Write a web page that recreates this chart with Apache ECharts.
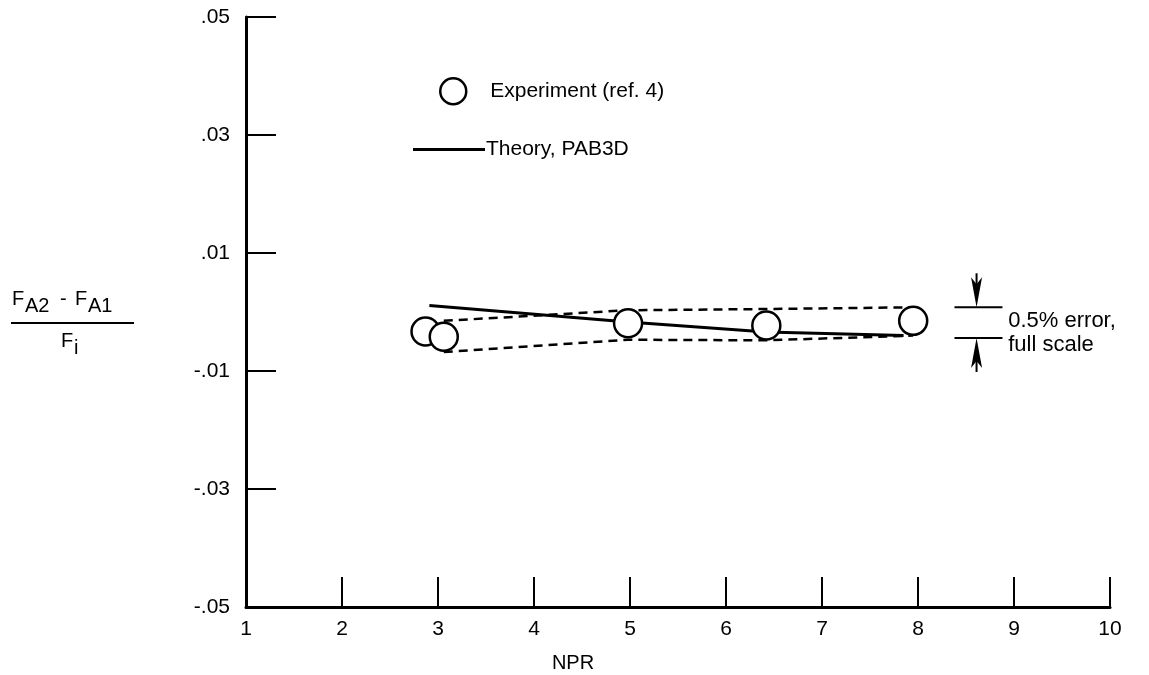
<!DOCTYPE html>
<html><head><meta charset="utf-8">
<script src="https://cdn.jsdelivr.net/npm/echarts@6/dist/echarts.min.js"></script>
<style>html,body{margin:0;padding:0;background:#fff}#c{width:1149px;height:675px}</style>
</head><body><div id="c"></div>
<script>
// ---- data ----
const xTicks = [1, 2, 3, 4, 5, 6, 7, 8, 9, 10];
const yTicks = [-0.05, -0.03, -0.01, 0.01, 0.03, 0.05];
const yTickLabels = ['-.05', '-.03', '-.01', '.01', '.03', '.05'];

const expNPR = [2.87, 3.06, 4.98, 6.42, 7.95];
const expVal = [-0.0033, -0.0042, -0.0019, -0.0023, -0.0015];

const theoryNPR = [2.91, 4.98, 6.42, 7.85];
const theoryVal = [0.0011, -0.0017, -0.0034, -0.0040];

const bandNPR = [3.06, 4.98, 6.42, 7.95];
const bandUpper = [-0.0015, 0.0003, 0.0005, 0.0008];
const bandLower = [-0.0068, -0.0047, -0.0048, -0.0040];

const errTop = 0.0008, errBottom = -0.0044;  // 0.5% error bracket

const FONT = "'Liberation Sans', Arial, Helvetica, sans-serif";
const zip = (a, b) => a.map((v, i) => [v, b[i]]);

const chart = echarts.init(document.getElementById('c'), null, {renderer: 'canvas'});
chart.setOption({
  animation: false,
  backgroundColor: '#fff',
  textStyle: {fontFamily: FONT, color: '#000'},
  grid: {left: 246, right: 39, top: 17, bottom: 68, containLabel: false},
  xAxis: {
    type: 'value', min: 1, max: 10, interval: 1,
    axisLine: {show: true, onZero: false, lineStyle: {color: '#000', width: 3}},
    axisTick: {show: true, inside: true, length: 30, lineStyle: {color: '#000', width: 2}},
    splitLine: {show: false},
    axisLabel: {color: '#000', fontSize: 21, fontFamily: FONT, margin: 12,
      formatter: v => xTicks.includes(v) ? String(v) : ''}
  },
  yAxis: {
    type: 'value', min: -0.05, max: 0.05,
    axisLine: {show: true, onZero: false, lineStyle: {color: '#000', width: 3}},
    axisTick: {show: true, inside: true, length: 30, customValues: yTicks,
      lineStyle: {color: '#000', width: 2}},
    splitLine: {show: false},
    axisLabel: {color: '#000', fontSize: 21, fontFamily: FONT, margin: 16,
      customValues: yTicks,
      formatter: v => {
        const i = yTicks.findIndex(t => Math.abs(t - v) < 1e-9);
        return i >= 0 ? yTickLabels[i] : '';
      }}
  },
  legend: [
    {data: [{name: 'Experiment (ref. 4)', icon: 'circle',
        itemStyle: {color: '#fff', borderColor: '#000', borderWidth: 2.5}}],
     left: 439, top: 77, itemWidth: 26, itemHeight: 26, padding: 0,
     textStyle: {fontSize: 21, fontFamily: FONT, color: '#000', padding: [0, 0, 0, 19]}},
    {data: [{name: 'Theory, PAB3D', icon: 'rect', itemStyle: {color: '#000', borderWidth: 0}}],
     left: 413, top: 139, itemWidth: 72, itemHeight: 3, padding: 0,
     textStyle: {fontSize: 21, fontFamily: FONT, color: '#000', padding: [0, 0, 0, -4]}}
  ],
  series: [
    {name: 'band upper', type: 'line', data: zip(bandNPR, bandUpper), symbol: 'none',
     lineStyle: {color: '#000', width: 2.5, type: [9, 6]}, z: 2},
    {name: 'band lower', type: 'line', data: zip(bandNPR, bandLower), symbol: 'none',
     lineStyle: {color: '#000', width: 2.5, type: [9, 6]}, z: 2},
    {name: 'Theory, PAB3D', type: 'line', data: zip(theoryNPR, theoryVal), symbol: 'none',
     lineStyle: {color: '#000', width: 3}, itemStyle: {color: '#000'}, z: 3},
    {name: 'Experiment (ref. 4)', type: 'scatter', data: zip(expNPR, expVal),
     symbol: 'circle', symbolSize: 28,
     itemStyle: {color: '#fff', borderColor: '#000', borderWidth: 2.5, opacity: 1}, z: 5}
  ]
});

// ---- annotations ----
const p = (x, y) => chart.convertToPixel({gridIndex: 0}, [x, y]);
const a1 = p(8.38, errTop), a2 = p(8.88, errTop);
const b1 = p(8.38, errBottom), b2 = p(8.88, errBottom);
const ax = p(8.61, 0)[0];
const yT = a1[1], yB = b1[1];
const tx = p(8.94, 0)[0];
const ln = (x1, y1, x2, y2, w) => ({type: 'line', shape: {x1, y1, x2, y2},
  style: {stroke: '#000', lineWidth: w || 2}, z: 10});
const arrow = (x, tipY, dir) => ([
  {type: 'polygon', shape: {points: [[x, tipY], [x - 5.5, tipY - dir * 30], [x, tipY - dir * 23], [x + 5.5, tipY - dir * 30]]},
   style: {fill: '#000'}, z: 10},
  ln(x, tipY - dir * 20, x, tipY - dir * 34, 2)
]);
const txt = (x, y, s, size, extra) => Object.assign({type: 'text', x, y,
  style: {text: s, fill: '#000', font: `${size}px ${FONT}`, textVerticalAlign: 'middle', textAlign: 'left'}, z: 10}, extra || {});

chart.setOption({
  graphic: [
    ln(a1[0], yT, a2[0], yT, 2),
    ln(b1[0], yB, b2[0], yB, 2),
    ...arrow(ax, yT, 1),
    ...arrow(ax, yB, -1),
    txt(tx, yT + 14, '0.5% error,', 22),
    txt(tx, yB + 7, 'full scale', 22),
    // x axis title
    {type: 'text', x: 573, y: 663, style: {text: 'NPR', fill: '#000', font: `20px ${FONT}`, textAlign: 'center', textVerticalAlign: 'middle'}},
    // y axis title (fraction)
    txt(12, 299, 'F', 20),
    txt(25, 306, 'A2', 20),
    txt(60, 299, '-', 20),
    txt(75, 299, 'F', 20),
    txt(88, 306, 'A1', 20),
    ln(11, 323, 134, 323, 2),
    txt(61, 341, 'F', 20),
    txt(74, 348, 'i', 20)
  ]
});
</script></body></html>
